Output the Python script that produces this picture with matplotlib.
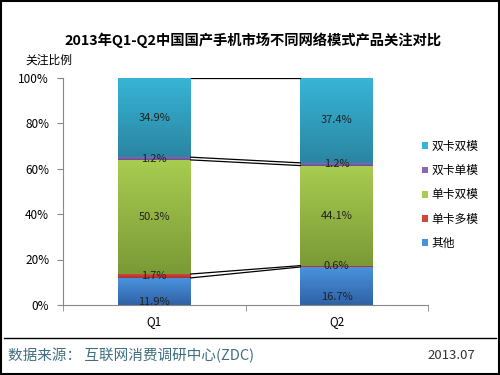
import numpy as np
import matplotlib
matplotlib.use("Agg")
import matplotlib.pyplot as plt
from matplotlib.patches import Patch
from matplotlib.colors import LinearSegmentedColormap

plt.rcParams['font.family'] = ['Noto Sans CJK SC', 'DejaVu Sans']

quarters = ["Q1", "Q2"]
series = ["其他", "单卡多模", "单卡双模", "双卡单模", "双卡双模"]
other = [11.9, 16.7]
single_multi = [1.7, 0.6]
single_dual = [50.3, 44.1]
dual_single = [1.2, 1.2]
dual_dual = [34.9, 37.4]
values = [other, single_multi, single_dual, dual_single, dual_dual]

# top / bottom colours of each gradient
colors = [("#4a92de", "#2f62a6"),
          ("#d2473a", "#a8302a"),
          ("#a8cc50", "#7b9a36"),
          ("#8a68b2", "#6a4a90"),
          ("#38b4d6", "#2a86a2")]

fig = plt.figure(figsize=(5, 3.75), dpi=100)
ax = fig.add_axes([0.126, 0.187, 0.73, 0.605])

x = np.arange(len(quarters))
width = 0.4
bottom = np.zeros(len(quarters))
tops = []
for vals, (c_top, c_bot), name in zip(values, colors, series):
    vals = np.array(vals)
    bars = ax.bar(x, vals, width, bottom=bottom, color=c_top, label=name,
                  linewidth=0, zorder=2)
    cmap = LinearSegmentedColormap.from_list(name, [c_bot, c_top])
    for b in bars:
        x0, y0 = b.get_x(), b.get_y()
        im = ax.imshow(np.linspace(0, 1, 50).reshape(-1, 1), cmap=cmap,
                       origin="lower", aspect="auto", zorder=3,
                       extent=(x0, x0 + b.get_width(), y0, y0 + b.get_height()))
        im.set_clip_path(b)
    for i, v in enumerate(vals):
        off = -8 if name == "其他" else 0
        ax.annotate(f"{v}%", (x[i], bottom[i] + v / 2), xytext=(0, off),
                    textcoords="offset points", ha="center", va="center",
                    fontsize=8, color="#222222", zorder=5)
    bottom = bottom + vals
    tops.append(bottom.copy())

# series lines between bars
for t in tops:
    ax.plot([x[0] + width / 2, x[1] - width / 2], [t[0], t[1]],
            color="black", lw=0.9, zorder=4)

ax.set_xlim(-0.5, 1.5)
ax.set_ylim(0, 100)
ax.set_yticks(range(0, 101, 20))
ax.set_yticklabels([f"{v}%" for v in range(0, 101, 20)], fontsize=8.5)
ax.set_xticks(x)
ax.set_xticklabels(quarters, fontsize=8.5)
ax.set_xticks([-0.5, 0.5, 1.5], minor=True)
ax.tick_params(axis="x", which="major", length=0, pad=7)
ax.tick_params(axis="x", which="minor", length=4, color="#888888")
ax.tick_params(axis="y", length=4, color="#888888", pad=6)
for s in ["top", "right"]:
    ax.spines[s].set_visible(False)
for s in ["left", "bottom"]:
    ax.spines[s].set_color("#888888")
    ax.spines[s].set_linewidth(0.8)

handles = [Patch(facecolor=c[0], label=n) for n, c in zip(series, colors)][::-1]
fig.legend(handles=handles, loc="upper left", bbox_to_anchor=(0.822, 0.655),
           frameon=False, fontsize=8.5, handlelength=0.5, handleheight=0.5,
           handletextpad=0.35, labelspacing=0.95)

fig.text(0.505, 0.893, "2013年Q1-Q2中国国产手机市场不同网络模式产品关注对比",
         ha="center", va="center", fontsize=10.3, fontweight="bold")
fig.text(0.05, 0.84, "关注比例", ha="left", va="center", fontsize=8.5)

fig.add_artist(plt.Line2D([0.008, 0.992], [0.098, 0.098], color="black",
                          lw=1, transform=fig.transFigure))
fig.text(0.016, 0.053, "数据来源： 互联网消费调研中心(ZDC)", ha="left", va="center",
         fontsize=10.5, color="#3f6f80")
fig.text(0.95, 0.053, "2013.07", ha="right", va="center", fontsize=9.5,
         color="#333333")

fig.add_artist(plt.Rectangle((0.002, 0.003), 0.996, 0.994, fill=False,
                             edgecolor="black", lw=1.5,
                             transform=fig.transFigure))

fig.savefig("out.png", dpi=100)
